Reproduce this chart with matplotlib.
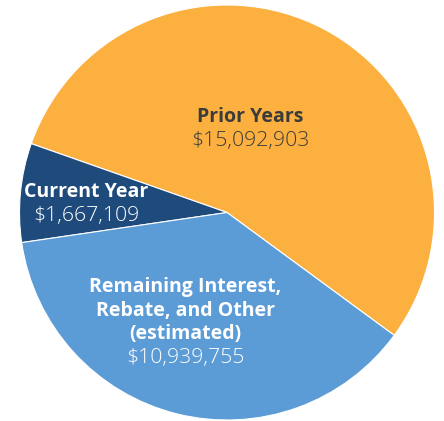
import matplotlib
matplotlib.use("Agg")
import matplotlib.pyplot as plt

# slice names, dollar amounts and the share of the circle each slice takes in the picture
names = ["Prior Years", "Current Year", "Remaining Interest,\nRebate, and Other\n(estimated)"]
amounts = ["$15,092,903", "$1,667,109", "$10,939,755"]
shares = [54.7, 7.7, 37.6]
colors = ["#FBB040", "#1F4A7C", "#5B9BD6"]
text_colors = ["#3B3B3B", "white", "white"]

W, H = 444, 421
fig = plt.figure(figsize=(W / 100, H / 100), dpi=100)
ax = fig.add_axes([0, 0, 1, 1])

ax.pie(shares, colors=colors, startangle=-36.3, counterclock=True,
       center=(227, H - 212.5), radius=207.5, frame=True,
       wedgeprops=dict(edgecolor="white", linewidth=0.8))
ax.set_xlim(0, W)
ax.set_ylim(0, H)
ax.axis("off")

font = "Open Sans"
# label positions in image pixels (x, y of first line centre)
label_pos = [(250, 117), (86, 192), (185, 287)]
line_h = 23.7
for name, amt, (x, y), tc in zip(names, amounts, label_pos, text_colors):
    lines = name.split("\n")
    for i, ln in enumerate(lines):
        ax.text(x, H - (y + i * line_h), ln, ha="center", va="center",
                fontsize=14, fontweight="bold", color=tc, family=font)
    ax.text(x, H - (y + len(lines) * line_h), amt, ha="center", va="center",
            fontsize=15.3, fontweight="light", color=tc, family=font)

fig.savefig("out.png", dpi=100)
